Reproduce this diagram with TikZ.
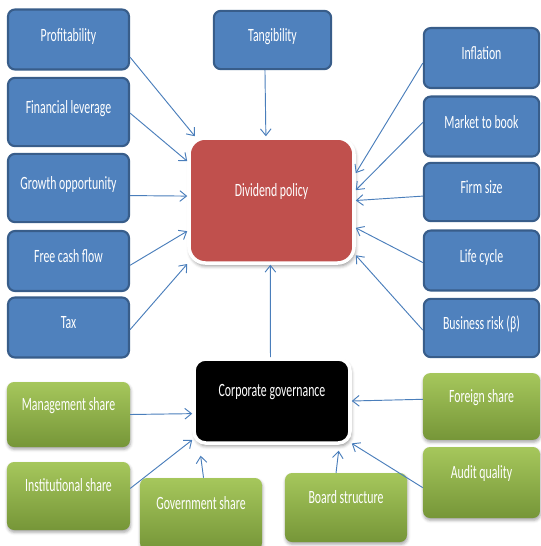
\documentclass[tikz,border=0pt]{standalone}
\usepackage{fontspec}
\usepackage{tikz}
\usetikzlibrary{arrows.meta, shadows.blur}
\newfontfamily\boxfont[FakeStretch=0.63]{Carlito}
\definecolor{divBlue}{RGB}{79,129,189}
\definecolor{divBlueEdge}{RGB}{56,93,138}
\definecolor{divRed}{RGB}{192,80,77}
\definecolor{divGreenTop}{RGB}{166,199,92}
\definecolor{divGreenBot}{RGB}{118,150,56}
\definecolor{divArrow}{RGB}{74,126,187}

\begin{document}
\begin{tikzpicture}[x=0.03cm, y=-0.03cm,
      factor/.style={rounded corners=6pt, draw=divBlueEdge, line width=1.8pt, fill=divBlue, text=white,
      minimum width=3.63cm, minimum height=1.8cm, text depth=0.3cm, font=\boxfont\fontsize{16}{18}\selectfont},
      govfactor/.style={rounded corners=6pt, top color=divGreenTop, bottom color=divGreenBot, text=white,
      minimum width=3.69cm, minimum height=2.0cm, text depth=0.65cm, font=\boxfont\fontsize{16}{18}\selectfont,
      blur shadow={shadow xshift=0.5pt, shadow yshift=-2pt, shadow blur radius=2.5pt, shadow opacity=35}},
      core/.style={draw=white, line width=3pt, text=white, text depth=0.62cm, font=\boxfont\fontsize{16}{18}\selectfont,
      blur shadow={shadow xshift=1pt, shadow yshift=-2.5pt, shadow blur radius=3pt, shadow opacity=45}},
      arrow/.style={-{Straight Barb[length=2mm, width=3.2mm]}, line width=0.8pt, draw=divArrow}
    ]
    \useasboundingbox (0,0) rectangle (541,546);
    \node[factor] (profit) at (68.5,39.5) {Profitability};
    \node[factor, minimum height=2.05cm] (leverage) at (68.5,112) {Financial leverage};
    \node[factor, minimum height=2.05cm] (growth) at (68.5,188) {Growth opportunity};
    \node[factor] (cashflow) at (68.5,261) {Free cash flow};
    \node[factor] (tax) at (68.5,327.5) {Tax};
    \node[factor, minimum width=3.52cm, minimum height=1.75cm] (tangible) at (272.5,40) {Tangibility};

    \node[factor, minimum width=3.46cm] (inflation) at (481.5,58) {Inflation};
    \node[factor, minimum width=3.46cm] (mtb) at (481.5,126.5) {Market to book};
    \node[factor, minimum width=3.46cm, minimum height=1.75cm] (firmsize) at (481.5,192) {Firm size};
    \node[factor, minimum width=3.46cm] (lifecycle) at (481.5,260.5) {Life cycle};
    \node[factor, minimum width=3.46cm, minimum height=1.75cm] (risk) at (481.5,328) {Business risk (β)};

    \node[core, rounded corners=14pt, fill=divRed, minimum width=4.95cm, minimum height=3.75cm] (divpol) at (271.5,200.5) {Dividend policy};
    \node[core, rounded corners=10pt, fill=black, minimum width=4.68cm, minimum height=2.52cm, text depth=0.66cm] (corpgov) at (272,401) {Corporate governance};

    \node[govfactor, minimum height=1.95cm] (mgmt) at (68.5,414.5) {Management share};
    \node[govfactor, minimum height=2.04cm] (inst) at (68.5,496) {Institutional share};
    \node[govfactor, minimum width=3.66cm, minimum height=2.16cm] (govt) at (201,514) {Government share};
    \node[govfactor, minimum width=3.66cm, minimum height=2.07cm] (board) at (346,507.5) {Board structure};
    \node[govfactor, minimum width=3.51cm] (foreign) at (481.5,406.5) {Foreign share};
    \node[govfactor, minimum width=3.51cm, minimum height=2.13cm] (audit) at (481.5,482.5) {Audit quality};

    \draw[arrow] (profit.-16.7) -- (divpol.140.2);
    \draw[arrow] (leverage.-1) -- (divpol.155.5);
    \draw[arrow] (growth.-7.4) -- (divpol.177);
    \draw[arrow] (cashflow.-4.4) -- (divpol.200.4);
    \draw[arrow] (tax.-2.3) -- (divpol.217.4);
    \draw[arrow] (tangible.256) -- (divpol.95.7);
    \draw[arrow] (inflation.185.9) -- (divpol.18.8);
    \draw[arrow] (mtb.176.6) -- (divpol.7.8);
    \draw[arrow] (firmsize.184.9) -- (divpol.-0.4);
    \draw[arrow] (lifecycle.182.4) -- (divpol.-18.4);
    \draw[arrow] (risk.182) -- (divpol.-33.1);
    \draw[arrow] (corpgov.92.8) -- (divpol.-91.3);

    \draw[arrow] (mgmt.0) -- (corpgov.189.4);
    \draw[arrow] (inst.7.1) -- (corpgov.206.3);
    \draw[arrow, shorten >=0.33cm] (govt.86.8) -- (corpgov.211.9);
    \draw[arrow, shorten >=0.18cm] (board.106.2) -- (corpgov.-33.9);
    \draw[arrow] (foreign.173.7) -- (corpgov.0.7);
    \draw[arrow] (audit.185.4) -- (corpgov.-28.8);
  \end{tikzpicture}
\end{document}
